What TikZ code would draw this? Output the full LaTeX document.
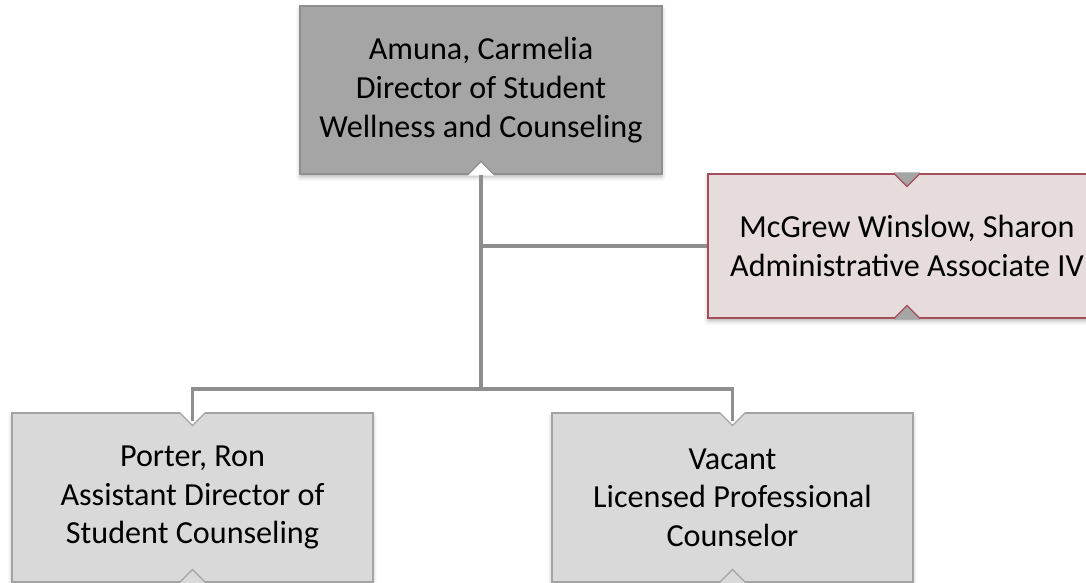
\documentclass[tikz,border=0pt]{standalone}
\usepackage{fontspec}
\setmainfont{Carlito}
\usepackage{tikz}
\usetikzlibrary{calc, shadows.blur}

\definecolor{headfill}{HTML}{A5A5A5}
\definecolor{headline}{HTML}{8F8F8F}
\definecolor{staffill}{HTML}{E5DCDB}
\definecolor{stafline}{HTML}{A64D5B}
\definecolor{unitfill}{HTML}{D9D9D9}
\definecolor{unitline}{HTML}{A3A3A3}
\definecolor{linkgray}{HTML}{8E8E8E}

\tikzset{
  orgbox/.style={rectangle, inner sep=0pt, align=center, text=black,
    font=\fontsize{18.3}{22}\selectfont, line width=0.7pt,
    blur shadow={shadow xshift=0pt, shadow yshift=-0.06cm, shadow blur radius=0.08cm, shadow opacity=30}},
  headbox/.style={orgbox, fill=headfill, draw=headline, minimum width=7.24cm, minimum height=3.36cm},
  staffbox/.style={orgbox, fill=staffill, draw=stafline, minimum width=7.96cm, minimum height=2.88cm},
  unitbox/.style={orgbox, fill=unitfill, draw=unitline, minimum width=7.22cm, minimum height=3.38cm},
  link/.style={draw=linkgray, line width=2.1pt},
}

% notch in the bottom edge (#1 node, #2 fill under it, #3 edge colour)
\newcommand{\notchup}[3]{%
  \fill[#2] ($(#1.south)+(-13,-1)$) -- ($(#1.south)+(-13,0)$) -- ($(#1.south)+(0,13)$)
    -- ($(#1.south)+(13,0)$) -- ($(#1.south)+(13,-1)$) -- cycle;
  \draw[#3, line width=0.7pt] ($(#1.south)+(-13,0)$) -- ($(#1.south)+(0,13)$) -- ($(#1.south)+(13,0)$);}
% notch in the top edge
\newcommand{\notchdown}[3]{%
  \fill[#2] ($(#1.north)+(-13,1)$) -- ($(#1.north)+(-13,0)$) -- ($(#1.north)+(0,-13)$)
    -- ($(#1.north)+(13,0)$) -- ($(#1.north)+(13,1)$) -- cycle;
  \draw[#3, line width=0.7pt] ($(#1.north)+(-13,0)$) -- ($(#1.north)+(0,-13)$) -- ($(#1.north)+(13,0)$);}

\begin{document}
\begin{tikzpicture}[x=0.02cm, y=0.02cm]
\useasboundingbox (0,0) rectangle (1086,582);
\clip (0,0) rectangle (1086,582);

% Boxes
\node[headbox] (amuna) at (481,492) {Amuna, Carmelia\\Director of Student\\Wellness and Counseling};
\node[staffbox] (mcgrew) at (907,336) {McGrew Winslow, Sharon\\Administrative Associate IV};
\node[unitbox] (porter) at (192.5,84.5) {Porter, Ron\\Assistant Director of\\Student Counseling};
\node[unitbox] (vacant) at (732.5,84.5) {Vacant\\Licensed Professional\\Counselor};

% Notches
\notchup{amuna}{white}{headline}
\notchdown{mcgrew}{headfill}{stafline}
\notchup{mcgrew}{headfill}{stafline}
\notchdown{porter}{white}{unitline}
\notchup{porter}{unitfill}{unitline}
\notchdown{vacant}{white}{unitline}
\notchup{vacant}{unitfill}{unitline}

% Connectors
\coordinate (busy) at (0,193);
\draw[link] (amuna.south) -- (amuna.south |- busy) coordinate (bus);
\draw[link] (bus) -| ([yshift=-0.18cm]porter.north);
\draw[link] (bus) -| ([yshift=-0.18cm]vacant.north);
\draw[link] (amuna.south |- mcgrew.west) -- (mcgrew.west);
\end{tikzpicture}
\end{document}
